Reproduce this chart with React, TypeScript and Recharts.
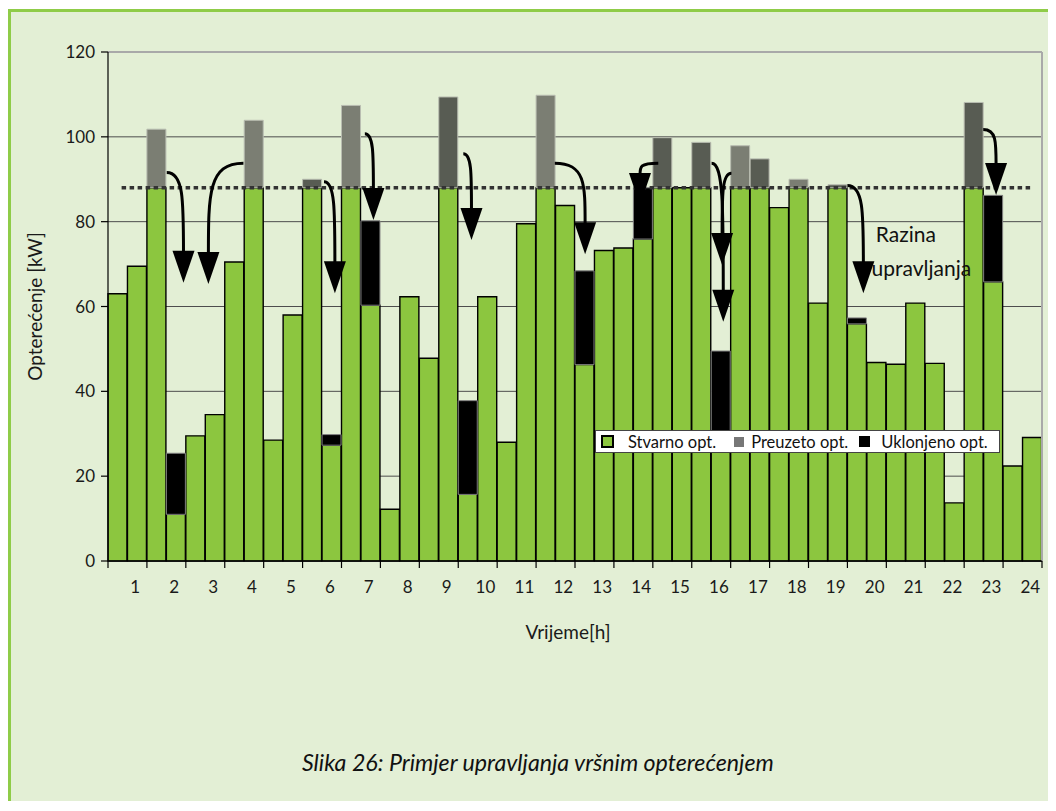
import React from "react";
import { BarChart, Bar, XAxis, YAxis, CartesianGrid, ReferenceLine, ReferenceDot, Legend, Cell } from "recharts";

// 48 half-hour slots, hour labels 1..24
const hourLabels = ["1", "2", "3", "4", "5", "6", "7", "8", "9", "10", "11", "12", "13", "14", "15", "16", "17", "18", "19", "20", "21", "22", "23", "24"];

// Stvarno opt. (green, kW)
const stvarno = [
  63, 69.5, 88, 11, 29.5, 34.5, 70.5, 88, 28.5, 58,
  88, 27.3, 88, 60.3, 12.2, 62.3, 47.8, 88, 15.7, 62.3,
  28, 79.5, 88, 83.8, 46.3, 73.2, 73.8, 75.9, 88, 88,
  88, 29, 88, 88, 83.3, 88, 60.8, 88, 55.9, 46.8,
  46.4, 60.8, 46.6, 13.7, 88, 65.8, 22.4, 29.1,
];

// Uklonjeno opt. (black, removed load stacked on top of green)
const uklonjeno = [
  0, 0, 0, 14.4, 0, 0, 0, 0, 0, 0,
  0, 2.5, 0, 19.9, 0, 0, 0, 0, 22.1, 0,
  0, 0, 0, 0, 22.1, 0, 0, 12.1, 0, 0,
  0, 20.5, 0, 0, 0, 0, 0, 0, 1.4, 0,
  0, 0, 0, 0, 0, 20.4, 0, 0,
];

// Preuzeto opt. (grey, part above control level)
const preuzeto = [
  0, 0, 13.8, 0, 0, 0, 0, 15.9, 0, 0,
  2, 0, 19.4, 0, 0, 0, 0, 21.4, 0, 0,
  0, 0, 21.8, 0, 0, 0, 0, 0, 11.8, 0,
  10.7, 0, 9.9, 6.8, 0, 2, 0, 0.7, 0, 0,
  0, 0, 0, 0, 20.1, 0, 0, 0,
];

const razina = 88;
const yTicks = [0, 20, 40, 60, 80, 100, 120];

// arrows: from tail to tip, in [hour, kW]
const arrows = [
  { from: [1.51, 91.6], to: [1.94, 65.6] },
  { from: [3.48, 93.8], to: [2.58, 65.3] },
  { from: [5.55, 89.4], to: [5.83, 63.1] },
  { from: [6.6, 100.7], to: [6.82, 80.4] },
  { from: [9.13, 96], to: [9.34, 75.7] },
  { from: [11.48, 93.8], to: [12.26, 72.3] },
  { from: [14.14, 93.8], to: [13.67, 83.9] },
  { from: [15.51, 93.8], to: [15.81, 56.4] },
  { from: [16.02, 91.4], to: [15.78, 69.8] },
  { from: [19.0, 88.5], to: [19.41, 63.1] },
  { from: [22.49, 101.7], to: [22.82, 86.3] },
];

// darker shade used on some of the grey bars
const darkPeaks = new Set([10, 17, 28, 30, 33, 37, 44]);

const rows = stvarno.map((v, i) => ({
  slot: i + 1,
  hour: i / 2 + 0.25,
  stvarno: v,
  uklonjeno: uklonjeno[i],
  preuzeto: preuzeto[i],
}));

const hourTicks = hourLabels.flatMap((_, i) => [i, i + 0.7]).concat(24);

const FONT = "Lato, 'Open Sans', sans-serif";
const GREEN = "#8cc63f";

const HourTick = (props: any) => {
  const { x, y, payload } = props;
  const v = payload.value;
  if (Number.isInteger(v)) {
    return <line x1={x} y1={y} x2={x} y2={y + 7} stroke="#000" strokeWidth={1.2} />;
  }
  return (
    <text x={x} y={y + 25} textAnchor="middle" dominantBaseline="central" fontFamily={FONT} fontSize={17} fill="#1a1a1a">
      {hourLabels[Math.floor(v)]}
    </text>
  );
};

const ArrowShape = (props: any) => {
  const { x1, y1, x2, y2 } = props;
  const head = 32;
  const half = 11;
  const baseY = y2 - head;
  const d = `M${x1},${y1} C${x2},${y1} ${x2},${y1 + (baseY - y1) * 0.35} ${x2},${baseY + 2}`;
  return (
    <g>
      <path d={d} fill="none" stroke="#000" strokeWidth={3} />
      <polygon points={`${x2 - half},${baseY} ${x2 + half},${baseY} ${x2},${y2}`} fill="#000" />
    </g>
  );
};

const textShape = (label: string) => (props: any) => (
  <text x={props.cx} y={props.cy} dominantBaseline="central" fontFamily={FONT} fontSize={21} fill="#111">
    {label}
  </text>
);

const LegendBox = () => (
  <div
    style={{
      display: "flex",
      alignItems: "center",
      height: 21,
      background: "#fff",
      border: "1px solid #444",
      fontFamily: FONT,
      fontSize: 16.5,
      color: "#111",
      whiteSpace: "nowrap",
    }}
  >
    <span style={{ width: 9, height: 9, border: "2px solid #000", background: GREEN, marginLeft: 5, marginRight: 14 }} />
    <span>Stvarno opt.</span>
    <span style={{ width: 10, height: 10, background: "#777", marginLeft: 18, marginRight: 7 }} />
    <span>Preuzeto opt.</span>
    <span style={{ width: 11, height: 11, background: "#000", marginLeft: 11, marginRight: 11 }} />
    <span>Uklonjeno opt.</span>
  </div>
);

export default function App() {
  return (
    <div
      style={{
        position: "relative",
        top: 1,
        width: 1046,
        height: 802,
        marginBottom: -9,
        boxSizing: "border-box",
        borderTop: "3px solid #8fcc48",
        borderLeft: "3px solid #8fcc48",
        borderRight: "3px solid #8fcc48",
        background: "#e3efd5",
        fontFamily: FONT,
      }}
    >
      <BarChart
        width={1040}
        height={700}
        data={rows}
        margin={{ top: 40, right: 9, left: 37, bottom: 61 }}
        barCategoryGap={0}
        barGap={0}
      >
        <CartesianGrid xAxisId="h" vertical={false} stroke="#4d4d4d" strokeWidth={1} />
        <XAxis xAxisId="b" dataKey="slot" type="category" orientation="top" height={0} hide />
        <XAxis
          xAxisId="h"
          dataKey="hour"
          type="number"
          domain={[0, 24]}
          allowDataOverflow
          ticks={hourTicks}
          interval={0}
          tick={<HourTick />}
          tickSize={0}
          tickMargin={0}
          tickLine={false}
          axisLine={{ stroke: "#000", strokeWidth: 1.2 }}
          height={90}
          label={{ value: "Vrijeme[h]", position: "insideBottom", offset: 12, dx: -7, fontSize: 19, fill: "#1a1a1a", fontFamily: FONT }}
        />
        <YAxis
          domain={[0, 120]}
          ticks={yTicks}
          interval={0}
          width={60}
          tickSize={7}
          tickMargin={6}
          axisLine={{ stroke: "#000", strokeWidth: 1.2 }}
          tickLine={{ stroke: "#000", strokeWidth: 1.2 }}
          tick={{ fontSize: 17, fill: "#1a1a1a", fontFamily: FONT }}
          label={{ value: "Opterećenje [kW]", angle: -90, position: "center", dx: -43, fontSize: 19, fill: "#1a1a1a", fontFamily: FONT }}
        />
        <Bar xAxisId="b" dataKey="stvarno" stackId="s" fill={GREEN} stroke="#000" strokeWidth={1.4} isAnimationActive={false} />
        <Bar xAxisId="b" dataKey="uklonjeno" stackId="s" fill="#000" stroke="#808080" strokeWidth={1} isAnimationActive={false} />
        <Bar xAxisId="b" dataKey="preuzeto" stackId="s" stroke="#b9bdb1" strokeWidth={1} isAnimationActive={false}>
          {rows.map((_, i) => (
            <Cell key={i} fill={darkPeaks.has(i) ? "#585c53" : "#7b7e73"} />
          ))}
        </Bar>
        <ReferenceLine xAxisId="h" y={120} stroke="#a9a9a9" strokeWidth={2} />
        <ReferenceLine xAxisId="h" x={24} stroke="#a9a9a9" strokeWidth={2} />
        <ReferenceLine
          xAxisId="h"
          segment={[{ x: 0.35, y: razina }, { x: 23.76, y: razina }]}
          stroke="#333"
          strokeWidth={3.5}
          strokeDasharray="4.5 3.5"
        />
        {arrows.map((a, i) => (
          <ReferenceLine
            key={i}
            xAxisId="h"
            segment={[{ x: a.from[0], y: a.from[1] }, { x: a.to[0], y: a.to[1] }]}
            shape={ArrowShape}
          />
        ))}
        <ReferenceDot xAxisId="h" x={19.73} y={77.3} r={0} shape={textShape("Razina")} />
        <ReferenceDot xAxisId="h" x={19.62} y={69.2} r={0} shape={textShape("upravljanja")} />
        <Legend
          layout="horizontal"
          verticalAlign="middle"
          align="center"
          content={() => <LegendBox />}
          wrapperStyle={{ left: 584, top: 418, width: 405, height: 23 }}
        />
      </BarChart>
      <div
        style={{
          position: "absolute",
          left: 291,
          top: 738,
          fontStyle: "italic",
          fontSize: 23.2,
          lineHeight: "24px",
          color: "#111",
          whiteSpace: "nowrap",
        }}
      >
        Slika 26: Primjer upravljanja vršnim opterećenjem
      </div>
    </div>
  );
}
